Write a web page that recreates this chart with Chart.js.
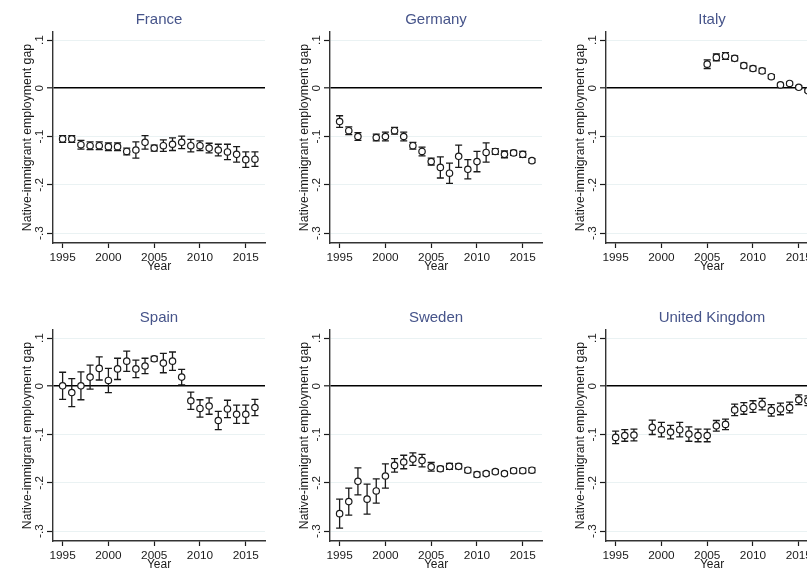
<!DOCTYPE html>
<html>
<head>
<meta charset="utf-8">
<script src="https://cdn.jsdelivr.net/npm/chart.js@4.4.1/dist/chart.umd.min.js"></script>
<style>
  html, body { margin: 0; padding: 0; background: #fff; overflow: hidden; }
  #panels { position: relative; width: 807px; height: 569px; overflow: hidden; background: #fff; }
  #panels canvas { position: absolute; }
</style>
</head>
<body>
<div id="panels"></div>
<script>
// Survey years
const years = [1995, 1996, 1997, 1998, 1999, 2000, 2001, 2002, 2003, 2004, 2005,
               2006, 2007, 2008, 2009, 2010, 2011, 2012, 2013, 2014, 2015, 2016];

// Axis ticks
const xTickValues = [1995, 2000, 2005, 2010, 2015];
const yTickValues = [0.1, 0, -0.1, -0.2, -0.3];
const yTickLabels = ['.1', '0', '-.1', '-.2', '-.3'];

const countries = ['France', 'Germany', 'Italy', 'Spain', 'Sweden', 'United Kingdom'];

// Native-immigrant employment gap (point estimate) and 95% CI half-width, by year
const franceGap = [-0.105, -0.105, -0.117, -0.119, -0.119, -0.121, -0.121, -0.131, -0.128, -0.112, -0.124,
                   -0.119, -0.116, -0.112, -0.119, -0.119, -0.124, -0.128, -0.132, -0.137, -0.148, -0.147];
const franceCi  = [0.007, 0.007, 0.009, 0.008, 0.008, 0.008, 0.008, 0.007, 0.017, 0.014, 0.006,
                   0.012, 0.013, 0.013, 0.013, 0.010, 0.010, 0.012, 0.016, 0.016, 0.016, 0.015];

const germanyGap = [-0.069, -0.088, -0.100, null, -0.102, -0.100, -0.088, -0.100, -0.119, -0.131, -0.152,
                    -0.164, -0.176, -0.141, -0.168, -0.152, -0.133, -0.131, -0.137, -0.134, -0.137, -0.150];
const germanyCi  = [0.012, 0.008, 0.008, null, 0.007, 0.009, 0.007, 0.009, 0.007, 0.009, 0.007,
                    0.022, 0.021, 0.023, 0.020, 0.021, 0.020, 0.006, 0.007, 0.005, 0.006, 0.004];

const italyGap = [null, null, null, null, null, null, null, null, null, null, 0.050,
                  0.064, 0.067, 0.062, 0.047, 0.041, 0.036, 0.024, 0.007, 0.010, 0.002, -0.005];
const italyCi  = [null, null, null, null, null, null, null, null, null, null, 0.009,
                  0.007, 0.007, 0.005, 0.005, 0.005, 0.005, 0.004, 0.003, 0.003, 0.003, 0.003];

const spainGap = [0.001, -0.013, 0.001, 0.019, 0.037, 0.012, 0.036, 0.052, 0.036, 0.042, 0.057,
                  0.048, 0.052, 0.019, -0.030, -0.046, -0.041, -0.071, -0.047, -0.058, -0.058, -0.044];
const spainCi  = [0.028, 0.029, 0.029, 0.025, 0.024, 0.025, 0.022, 0.021, 0.018, 0.016, 0.005,
                  0.020, 0.019, 0.016, 0.018, 0.018, 0.017, 0.019, 0.018, 0.019, 0.019, 0.017];

const swedenGap = [-0.264, -0.239, -0.197, -0.234, -0.217, -0.186, -0.164, -0.157, -0.151, -0.154, -0.167,
                   -0.171, -0.166, -0.166, -0.174, -0.183, -0.181, -0.177, -0.181, -0.175, -0.175, -0.174];
const swedenCi  = [0.030, 0.028, 0.028, 0.031, 0.025, 0.025, 0.014, 0.014, 0.013, 0.013, 0.009,
                   0.005, 0.006, 0.005, 0.005, 0.005, 0.004, 0.004, 0.004, 0.005, 0.005, 0.005];

const ukGap = [-0.106, -0.102, -0.101, null, -0.085, -0.090, -0.095, -0.090, -0.099, -0.102, -0.102,
               -0.082, -0.079, -0.049, -0.046, -0.042, -0.037, -0.050, -0.047, -0.044, -0.028, -0.030];
const ukCi  = [0.013, 0.012, 0.012, null, 0.015, 0.015, 0.014, 0.015, 0.015, 0.013, 0.013,
               0.011, 0.011, 0.012, 0.012, 0.012, 0.012, 0.012, 0.012, 0.011, 0.010, 0.010];

const gapSeries = [franceGap, germanyGap, italyGap, spainGap, swedenGap, ukGap];
const ciSeries  = [franceCi, germanyCi, italyCi, spainCi, swedenCi, ukCi];

// Panel geometry
const PANEL_W = 277, PANEL_H = 298;
const colLeft = [0, 277, 553];
const rowTop = [0, 298];

const FONT = '"Liberation Sans", Arial, Helvetica, sans-serif';
const INK = '#1a1a1a';

// Vertical confidence-interval whiskers with caps, drawn beneath the markers
const errorBars = {
  id: 'errorBars',
  beforeDatasetsDraw(chart) {
    const { ctx, scales: { x, y } } = chart;
    const ds = chart.data.datasets[0];
    ctx.save();
    ctx.strokeStyle = INK;
    ctx.lineWidth = 1.3;
    ds.data.forEach((p, i) => {
      const half = ds.ciHalf[i];
      if (p.y == null || half == null) return;
      const px = x.getPixelForValue(p.x);
      const top = y.getPixelForValue(p.y + half);
      const bot = y.getPixelForValue(p.y - half);
      const cap = 3.5;
      ctx.beginPath();
      ctx.moveTo(px, top); ctx.lineTo(px, bot);
      ctx.moveTo(px - cap, top); ctx.lineTo(px + cap, top);
      ctx.moveTo(px - cap, bot); ctx.lineTo(px + cap, bot);
      ctx.stroke();
    });
    ctx.restore();
  }
};

const holder = document.getElementById('panels');

countries.forEach((name, k) => {
  const canvas = document.createElement('canvas');
  canvas.width = PANEL_W;
  canvas.height = PANEL_H;
  canvas.style.left = colLeft[k % 3] + 'px';
  canvas.style.top = rowTop[Math.floor(k / 3)] + 'px';
  canvas.style.width = PANEL_W + 'px';
  canvas.style.height = PANEL_H + 'px';
  holder.appendChild(canvas);

  const gap = gapSeries[k];
  new Chart(canvas, {
    type: 'scatter',
    data: {
      datasets: [{
        data: years.map((yr, i) => ({ x: yr, y: gap[i] })),
        ciHalf: ciSeries[k],
        pointStyle: 'circle',
        pointRadius: 3.2,
        pointHoverRadius: 3.2,
        pointBackgroundColor: '#ffffff',
        pointBorderColor: INK,
        pointBorderWidth: 1.2,
        showLine: false
      }]
    },
    options: {
      responsive: false,
      animation: false,
      devicePixelRatio: 1,
      layout: { padding: { left: 0, right: 12, top: 0, bottom: 0 } },
      plugins: {
        legend: { display: false },
        tooltip: { enabled: false },
        title: {
          display: true,
          text: name,
          fullSize: false,
          color: '#46548a',
          font: { family: FONT, size: 15, weight: 'normal' },
          padding: { top: 11, bottom: 3 }
        }
      },
      scales: {
        x: {
          type: 'linear',
          min: 1993.95,
          max: 2017.1,
          afterFit(scale) { scale.height = 55; },
          afterBuildTicks(scale) { scale.ticks = xTickValues.map(v => ({ value: v })); },
          grid: {
            drawOnChartArea: false,
            drawTicks: true,
            tickLength: 5,
            tickColor: INK,
            tickWidth: 1.2
          },
          border: { display: true, color: '#333', width: 1.4 },
          ticks: {
            color: INK,
            font: { family: FONT, size: 11.8 },
            padding: 3,
            maxRotation: 0,
            minRotation: 0,
            callback: v => String(v)
          },
          title: {
            display: true,
            text: 'Year',
            color: INK,
            font: { family: FONT, size: 12 },
            padding: { top: 0, bottom: 24 }
          }
        },
        y: {
          type: 'linear',
          min: -0.3207,
          max: 0.1166,
          afterFit(scale) { scale.width = 53; },
          afterBuildTicks(scale) { scale.ticks = yTickValues.map(v => ({ value: v })); },
          grid: {
            drawOnChartArea: true,
            drawTicks: true,
            tickLength: 6,
            tickColor: INK,
            tickWidth: 1.2,
            color: c => (c.tick && c.tick.value === 0) ? '#000000' : '#eaf2f3',
            lineWidth: c => (c.tick && c.tick.value === 0) ? 1.6 : 1
          },
          border: { display: true, color: '#333', width: 1.4 },
          ticks: {
            color: INK,
            font: { family: FONT, size: 11.8 },
            padding: 0,
            minRotation: 90,
            maxRotation: 90,
            crossAlign: 'center',
            callback: v => yTickLabels[yTickValues.indexOf(v)]
          },
          title: {
            display: true,
            text: 'Native-immigrant employment gap',
            color: INK,
            font: { family: FONT, size: 12.3 },
            padding: { top: 20, bottom: 0 }
          }
        }
      }
    },
    plugins: [errorBars]
  });
});
</script>
</body>
</html>
